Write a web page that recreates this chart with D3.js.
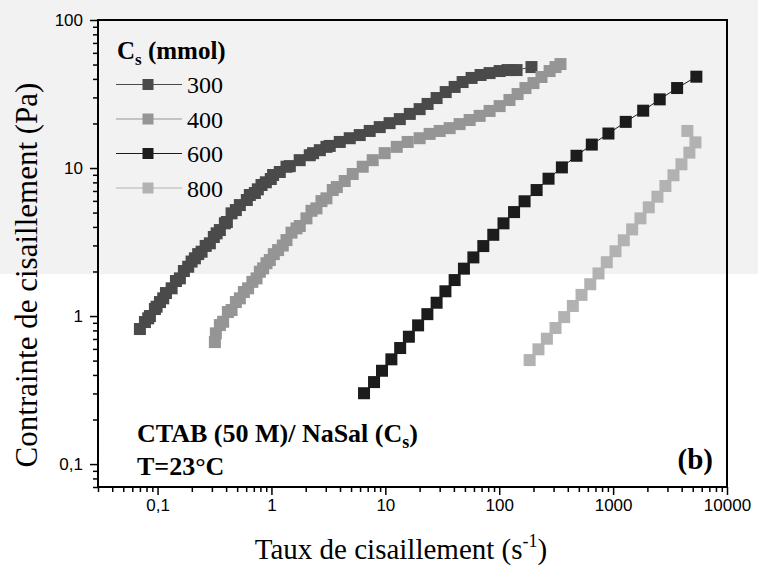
<!DOCTYPE html>
<html>
<head>
<meta charset="utf-8">
<script src="https://d3js.org/d3.v7.min.js"></script>
<style>
body { margin: 0; background: #fff; }
.axis text { font-family: "Liberation Sans", Arial, sans-serif; font-size: 17px; fill: #000; }
.axis line { stroke: #000; stroke-width: 1.5px; }
.axis path { display: none; }
.serif { font-family: "Liberation Serif", "Times New Roman", serif; fill: #000; }
</style>
</head>
<body>
<div id="chart"></div>
<script>
// concentrations of NaSal (mmol) and their grey levels
var concentrations = ["300", "400", "600", "800"];
var colors = ["#4a4a4a", "#959595", "#1c1c1c", "#b2b2b2"];

// shear rate (1/s) and shear stress (Pa)
var rate300 = [0.0700, 0.0775, 0.0828, 0.0857, 0.0948, 0.0981, 0.105, 0.1121, 0.1185, 0.1329, 0.145, 0.1571, 0.1703, 0.1858, 0.199, 0.2128, 0.2274, 0.2435, 0.2646, 0.288, 0.312, 0.330, 0.3525, 0.390, 0.406, 0.4465, 0.487, 0.528, 0.608, 0.646, 0.715, 0.7595, 0.818, 0.893, 0.987, 1.034, 1.184, 1.356, 1.45, 1.77, 2.17, 2.32, 2.66, 3.04, 3.25,
    3.98, 4.87, 5.96, 7.29, 8.93, 10.9, 13.4, 16.4, 20.0, 23.5, 28.2, 33.9, 40.6, 47.7, 57.2, 68.6, 82.3, 100.8, 118.4, 142, 192];
var stress300 = [0.817, 0.911, 0.965, 1.00, 1.115, 1.156, 1.243, 1.317, 1.43, 1.539, 1.724, 1.797, 2.014, 2.153, 2.334, 2.455, 2.62, 2.72, 2.976, 3.10, 3.42, 3.62, 3.81, 4.23, 4.32, 4.94, 5.20, 5.62, 6.08, 6.57, 6.78, 7.18, 7.68, 8.01, 8.43, 8.97, 9.40, 10.2, 10.3, 11.3, 12.2, 12.6, 13.2, 13.9, 14.1,
    15.0, 15.9, 16.7, 17.8, 18.9, 20.1, 21.4, 23.2, 25.0, 27.1, 29.7, 32.6, 35.3, 38.1, 40.6, 42.5, 43.8, 45.2, 45.9, 45.9, 48.1];

var rate400 = [0.3187, 0.325, 0.3525, 0.3768, 0.4145, 0.4465, 0.487, 0.528, 0.5726, 0.624, 0.680, 0.740, 0.791, 0.845, 0.905, 0.968, 1.049, 1.144, 1.258, 1.356, 1.50, 1.66, 1.774, 2.03, 2.247, 2.485, 2.75, 3.04, 3.455,
    3.75, 4.40, 5.17, 6.33, 7.75, 9.87, 12.6, 15.7, 20.0, 24.5, 30.0, 36.7, 44.9, 55.0, 67.3, 82.3, 100.8, 123, 145, 170, 200, 235, 277, 312, 345];
var stress400 = [0.667, 0.764, 0.869, 0.915, 1.064, 1.098, 1.243, 1.317, 1.453, 1.539, 1.702, 1.797, 1.992, 2.10, 2.274, 2.39, 2.62, 2.79, 2.995, 3.26, 3.66, 3.91, 4.06, 4.57, 5.14, 5.34, 5.98, 6.24, 7.10,
    7.44, 8.17, 9.11, 10.2, 11.3, 12.6, 13.9, 15.0, 15.9, 17.0, 17.8, 18.6, 19.8, 21.1, 22.5, 24.3, 26.2, 28.8, 31.6, 34.7, 37.5, 41.2, 45.2, 48.1, 50.4];

var rate600 = [6.5, 7.96, 9.35, 11.3, 13.5, 16.1, 19.4, 23.4, 28.2, 33.7, 40.6, 49.0, 59.3, 72.5, 88.7, 109, 135, 167, 213, 271, 355, 477, 650, 910, 1291, 1837, 2566, 3648, 5383];
var stress600 = [0.301, 0.358, 0.427, 0.510, 0.608, 0.725, 0.865, 1.03, 1.23, 1.47, 1.75, 2.09, 2.49, 2.97, 3.54, 4.23, 5.04, 5.96, 7.10, 8.47, 10.1, 12.1, 14.4, 17.1, 20.5, 24.4, 29.1, 34.7, 41.4];

var rate800 = [185, 221, 262, 312, 372, 443, 528, 630, 744, 880, 1050, 1241, 1470, 1738, 2056, 2450, 2879, 3388, 3981, 4677, 5284, 4487];
var stress800 = [0.504, 0.596, 0.703, 0.830, 0.984, 1.17, 1.39, 1.64, 1.94, 2.31, 2.74, 3.25, 3.85, 4.57, 5.43, 6.40, 7.56, 8.93, 10.6, 12.7, 14.9, 17.8];

var xTickValues = [0.1, 1, 10, 100, 1000, 10000];
var xTickLabels = ["0,1", "1", "10", "100", "1000", "10000"];
var yTickValues = [0.1, 1, 10, 100];
var yTickLabels = ["0,1", "1", "10", "100"];

var series = [
    { name: concentrations[0], color: colors[0], values: d3.zip(rate300, stress300) },
    { name: concentrations[1], color: colors[1], values: d3.zip(rate400, stress400) },
    { name: concentrations[2], color: colors[2], values: d3.zip(rate600, stress600) },
    { name: concentrations[3], color: colors[3], values: d3.zip(rate800, stress800) }
];

var margin = { top: 20, right: 31, bottom: 91, left: 98 };
var width = 758 - margin.left - margin.right,
    height = 578 - margin.top - margin.bottom;

var root = d3.select("#chart").append("svg")
    .attr("width", 758)
    .attr("height", 578);

// light grey band behind the top part of the figure
root.append("rect")
    .attr("x", 0).attr("y", 0)
    .attr("width", 758).attr("height", 274)
    .attr("fill", "#f2f2f2");

var svg = root.append("g")
    .attr("transform", "translate(" + margin.left + "," + margin.top + ")");

var x = d3.scaleLog().domain([0.03, 10000]).range([0, width]);
var y = d3.scaleLog().domain([0.07, 100]).range([height, 0]);

function isDecade(d) {
    var l = Math.log10(d);
    return Math.abs(l - Math.round(l)) < 1e-6;
}

var xMinor = x.ticks().filter(function(d) { return !isDecade(d); });
var yMinor = y.ticks().filter(function(d) { return !isDecade(d); });

svg.append("g")
    .attr("class", "axis")
    .attr("transform", "translate(0," + height + ")")
    .call(d3.axisBottom(x).tickValues(xMinor).tickSize(5).tickFormat(""));
svg.append("g")
    .attr("class", "axis")
    .attr("transform", "translate(0," + height + ")")
    .call(d3.axisBottom(x).tickValues(xTickValues).tickSize(8).tickPadding(4)
        .tickFormat(function(d, i) { return xTickLabels[i]; }));

svg.append("g")
    .attr("class", "axis")
    .call(d3.axisLeft(y).tickValues(yMinor).tickSize(5).tickFormat(""));
svg.append("g")
    .attr("class", "axis")
    .call(d3.axisLeft(y).tickValues(yTickValues).tickSize(8).tickPadding(7)
        .tickFormat(function(d, i) { return yTickLabels[i]; }));

// frame
svg.append("rect")
    .attr("width", width).attr("height", height)
    .attr("fill", "none")
    .attr("stroke", "#000")
    .attr("stroke-width", 2);

var line = d3.line()
    .x(function(d) { return x(d[0]); })
    .y(function(d) { return y(d[1]); });

var size = 12;

var groups = svg.selectAll(".series").data(series)
    .enter().append("g")
    .attr("class", "series");

groups.append("path")
    .attr("d", function(d) { return line(d.values); })
    .attr("fill", "none")
    .attr("stroke", function(d) { return d.color; })
    .attr("stroke-width", 1);

groups.selectAll("rect")
    .data(function(d) { return d.values.map(function(v) { return { v: v, color: d.color }; }); })
    .enter().append("rect")
    .attr("x", function(d) { return x(d.v[0]) - size / 2; })
    .attr("y", function(d) { return y(d.v[1]) - size / 2; })
    .attr("width", size)
    .attr("height", size)
    .attr("fill", function(d) { return d.color; });

// legend
var legend = root.append("g").attr("transform", "translate(116,0)");
var title = legend.append("text")
    .attr("class", "serif")
    .attr("x", 1).attr("y", 59)
    .style("font-size", "25px")
    .style("font-weight", "bold");
title.append("tspan").text("C");
title.append("tspan").attr("dy", 6).style("font-size", "17px").text("s");
title.append("tspan").attr("dy", -6).text(" (mmol)");

var items = legend.selectAll(".item").data(series)
    .enter().append("g")
    .attr("class", "item")
    .attr("transform", function(d, i) { return "translate(0," + (84.5 + i * 34.5) + ")"; });
items.append("line")
    .attr("x1", 0).attr("x2", 66)
    .attr("stroke", function(d) { return d.color; })
    .attr("stroke-width", 1);
items.append("rect")
    .attr("x", 32 - 5.5).attr("y", -5.5)
    .attr("width", 11).attr("height", 11)
    .attr("fill", function(d) { return d.color; });
items.append("text")
    .attr("class", "serif")
    .attr("x", 71).attr("y", 8.5)
    .style("font-size", "24px")
    .text(function(d) { return d.name; });

// annotations
var note = root.append("text")
    .attr("class", "serif")
    .attr("x", 137).attr("y", 442)
    .style("font-size", "26px")
    .style("font-weight", "bold");
note.append("tspan").text("CTAB (50 M)/ NaSal (C");
note.append("tspan").attr("dy", 6).style("font-size", "18px").text("s");
note.append("tspan").attr("dy", -6).text(")");

root.append("text")
    .attr("class", "serif")
    .attr("x", 137).attr("y", 475)
    .style("font-size", "26px")
    .style("font-weight", "bold")
    .text("T=23°C");

root.append("text")
    .attr("class", "serif")
    .attr("x", 713).attr("y", 469)
    .attr("text-anchor", "end")
    .style("font-size", "29px")
    .style("font-weight", "bold")
    .text("(b)");

// axis titles
var xTitle = root.append("text")
    .attr("class", "serif")
    .attr("x", 401).attr("y", 559)
    .attr("text-anchor", "middle")
    .style("font-size", "29px");
xTitle.append("tspan").text("Taux de cisaillement (s");
xTitle.append("tspan").attr("dy", -12).style("font-size", "18px").text("-1");
xTitle.append("tspan").attr("dy", 12).text(")");

root.append("text")
    .attr("class", "serif")
    .attr("transform", "translate(37,275) rotate(-90)")
    .attr("text-anchor", "middle")
    .style("font-size", "31px")
    .text("Contrainte de cisaillement (Pa)");
</script>
</body>
</html>
